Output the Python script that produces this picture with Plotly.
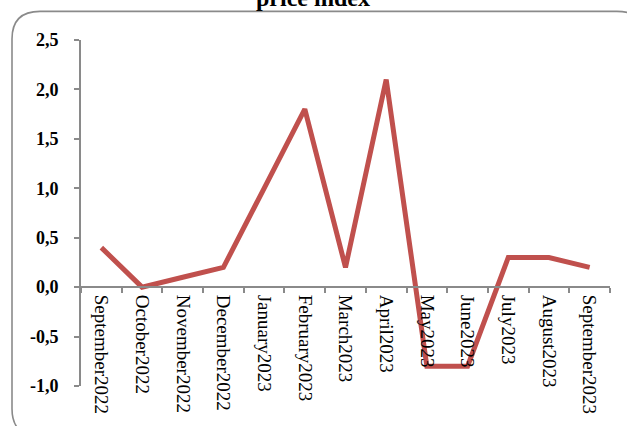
import plotly.graph_objects as go

categories = ["September2022", "October2022", "November2022", "December2022",
              "January2023", "February2023", "March2023", "April2023",
              "May2023", "June2023", "July2023", "August2023", "September2023"]
values = [0.4, 0.0, 0.1, 0.2, 1.0, 1.8, 0.2, 2.1, -0.8, -0.8, 0.3, 0.3, 0.2]
ytick_vals = [-1.0, -0.5, 0.0, 0.5, 1.0, 1.5, 2.0, 2.5]
ytick_text = ["-1,0", "-0,5", "0,0", "0,5", "1,0", "1,5", "2,0", "2,5"]
title_text = "price index"

W, H = 627, 426
L, R, T, B = 81, 17, 40, 36
pw, ph = W - L - R, H - T - B

def px2paper(x, y):
    return (x - L) / pw, (H - B - y) / ph

ymin, ymax = -1.0, 2.5
zero_pos = (0 - ymin) / (ymax - ymin)

fig = go.Figure()
fig.add_trace(go.Scatter(
    x=categories, y=values, mode="lines",
    line=dict(color="#C0504D", width=5),
    hoverinfo="skip", cliponaxis=False,
))

# rounded border
x0, y0, x1, y1, r = 12, 11, 645, 441, 28
def P(x, y):
    a, b = px2paper(x, y)
    return f"{a:.5f},{b:.5f}"
path = (f"M {P(x0, y0 + r)} Q {P(x0, y0)} {P(x0 + r, y0)} L {P(x1 - r, y0)} "
        f"Q {P(x1, y0)} {P(x1, y0 + r)} L {P(x1, y1 - r)} Q {P(x1, y1)} {P(x1 - r, y1)} "
        f"L {P(x0 + r, y1)} Q {P(x0, y1)} {P(x0, y1 - r)} Z")
fig.add_shape(type="path", path=path, xref="paper", yref="paper",
              line=dict(color="#8a8a8a", width=1.6), layer="below")

fig.add_annotation(text=f"<b>{title_text}</b>", xref="paper", yref="paper",
                   x=px2paper(313, 0)[0], y=1, yanchor="bottom", xanchor="center",
                   yshift=26.5, showarrow=False,
                   font=dict(family="Liberation Serif", size=24, color="#000"))

fig.update_layout(
    width=W, height=H,
    margin=dict(l=L, r=R, t=T, b=B),
    paper_bgcolor="white", plot_bgcolor="white",
    showlegend=False,
    font=dict(family="Liberation Serif", color="#000"),
    xaxis=dict(
        type="category", range=[-0.5, 12.5],
        anchor="free", position=zero_pos,
        showline=True, linecolor="#8a8a8a", linewidth=1.6,
        ticks="outside", ticklen=5, tickcolor="#8a8a8a", tickwidth=1.6,
        tickson="boundaries", tickangle=90, ticklabelstandoff=3,
        tickfont=dict(family="Liberation Serif", size=19, color="#000"),
        showgrid=False, zeroline=False,
    ),
    yaxis=dict(
        range=[ymin, ymax], domain=[0, 1],
        tickmode="array", tickvals=ytick_vals, ticktext=ytick_text,
        showline=True, linecolor="#8a8a8a", linewidth=1.6,
        ticks="outside", ticklen=5, tickcolor="#8a8a8a", tickwidth=1.6,
        ticklabelstandoff=12,
        tickfont=dict(family="Liberation Serif", size=18, color="#000", weight="bold"),
        showgrid=False, zeroline=False,
    ),
)

fig.write_html("out.html", config={"displayModeBar": False},
               post_script="document.body.style.margin='0';document.body.style.overflow='hidden';")
